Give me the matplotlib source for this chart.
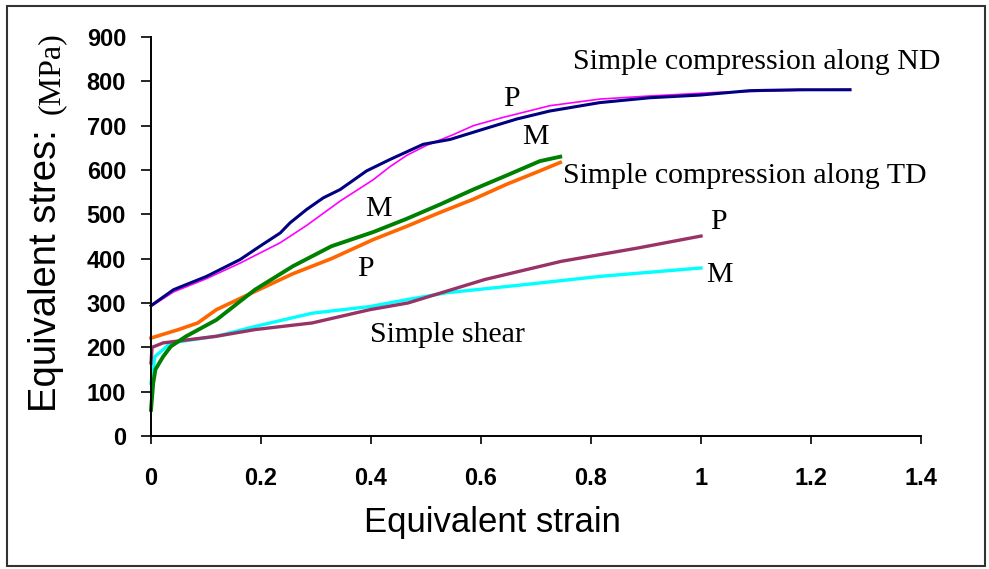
import matplotlib
matplotlib.use("Agg")
import matplotlib.pyplot as plt
from matplotlib.patches import Rectangle
from matplotlib.ticker import FuncFormatter

# --- values (strain, stress in MPa) ---
nd_m_strain = [0.0, 0.041, 0.101, 0.162, 0.198, 0.235, 0.253, 0.283, 0.313, 0.344, 0.392,
               0.435, 0.495, 0.544, 0.604, 0.665, 0.725, 0.816, 0.907, 0.998, 1.089, 1.18, 1.271]
nd_m_stress = [294, 330, 360, 398, 428, 458, 481, 511, 537, 556, 598,
               624, 658, 669, 692, 715, 733, 752, 763, 769, 779, 781, 781]

nd_p_strain = [0.0, 0.041, 0.101, 0.162, 0.235, 0.283, 0.344, 0.404, 0.435, 0.465, 0.5,
               0.55, 0.586, 0.635, 0.725, 0.816, 0.907, 1.028, 1.149, 1.271]
nd_p_stress = [292, 325, 355, 390, 436, 475, 530, 578, 608, 633, 655,
               680, 700, 717, 745, 760, 767, 775, 779, 782]

td_m_strain = [0.0, 0.004, 0.008, 0.022, 0.036, 0.064, 0.119, 0.189, 0.258, 0.328, 0.404,
               0.465, 0.525, 0.586, 0.647, 0.707, 0.744]
td_m_stress = [59, 119, 150, 179, 202, 225, 262, 330, 383, 428, 460,
               490, 522, 556, 588, 620, 630]

td_p_strain = [0.0, 0.05, 0.085, 0.119, 0.189, 0.258, 0.328, 0.404, 0.465, 0.525, 0.586,
               0.647, 0.707, 0.744]
td_p_stress = [221, 240, 255, 285, 326, 366, 400, 443, 473, 504, 534,
               568, 598, 617]

sh_m_strain = [0.0, 0.007, 0.036, 0.119, 0.189, 0.293, 0.398, 0.467, 0.537, 0.676, 0.816, 1.0]
sh_m_stress = [119, 179, 210, 225, 247, 277, 292, 308, 323, 341, 360, 379]

sh_p_strain = [0.0, 0.002, 0.022, 0.119, 0.189, 0.293, 0.398, 0.467, 0.607, 0.746, 0.885, 1.0]
sh_p_stress = [165, 200, 210, 225, 240, 255, 285, 300, 353, 394, 424, 451]

x_ticks = [0, 0.2, 0.4, 0.6, 0.8, 1.0, 1.2, 1.4]
y_ticks = [0, 100, 200, 300, 400, 500, 600, 700, 800, 900]

serif = "Liberation Serif"
sans = "Liberation Sans"

fig = plt.figure(figsize=(9.89, 5.69), dpi=100)
ax = fig.add_axes([151 / 989, 1 - 436 / 569, 770 / 989, 399 / 569])

ax.plot(sh_m_strain, sh_m_stress, color="#00FFFF", lw=2.4, clip_on=False)
ax.plot(sh_p_strain, sh_p_stress, color="#993366", lw=2.4, clip_on=False)
ax.plot(td_p_strain, td_p_stress, color="#FF6600", lw=2.6, clip_on=False)
ax.plot(td_m_strain, td_m_stress, color="#008000", lw=2.8, clip_on=False)
ax.plot(nd_p_strain, nd_p_stress, color="#FF00FF", lw=1.2, clip_on=False)
ax.plot(nd_m_strain, nd_m_stress, color="#000080", lw=2.2, clip_on=False)

ax.set_xlim(0, 1.4)
ax.set_ylim(0, 900)
ax.set_xticks(x_ticks)
ax.set_yticks(y_ticks)
ax.xaxis.set_major_formatter(FuncFormatter(lambda v, p: "%g" % v))

for s in ["top", "right"]:
    ax.spines[s].set_visible(False)
for s in ["left", "bottom"]:
    ax.spines[s].set_linewidth(1.4)

ax.tick_params(axis="y", direction="out", length=7, width=1.2, pad=11,
               labelsize=17)
ax.tick_params(axis="x", direction="out", length=5.5, width=1.2, pad=17,
               labelsize=17)
for lab in ax.get_xticklabels() + ax.get_yticklabels():
    lab.set_fontfamily(sans)
    lab.set_fontweight("bold")

# curve annotations
txt = dict(family=serif, fontsize=21.5, va="baseline", ha="left")
ax.text(0.767, 828, "Simple compression along ND", **txt)
ax.text(0.749, 570, "Simple compression along TD", **txt)
ax.text(0.398, 213, "Simple shear", **txt)
ax.text(0.640, 745, "P", **txt)
ax.text(0.674, 658, "M", **txt)
ax.text(0.389, 496, "M", **txt)
ax.text(0.374, 362, "P", **txt)
ax.text(1.016, 466, "P", **txt)
ax.text(1.009, 347, "M", **txt)

# axis titles
fig.text(492 / 989, 1 - 532 / 569, "Equivalent strain", family=sans,
         fontsize=25, ha="center", va="baseline")
fig.text(64 / 989, 1 - 412 / 569, "Equivalent stres:", family=sans,
         fontsize=27.5, rotation=90, ha="right", va="bottom")
fig.text(66 / 989, 1 - 114 / 569, "(MPa)", family=serif,
         fontsize=23, rotation=90, ha="right", va="bottom")

# outer frame
fig.patches.append(Rectangle((7 / 989, 3 / 569), 978 / 989, 560 / 569,
                             transform=fig.transFigure, fill=False,
                             edgecolor="#333333", lw=1.5))

fig.savefig("out.png", dpi=100, facecolor="white")
